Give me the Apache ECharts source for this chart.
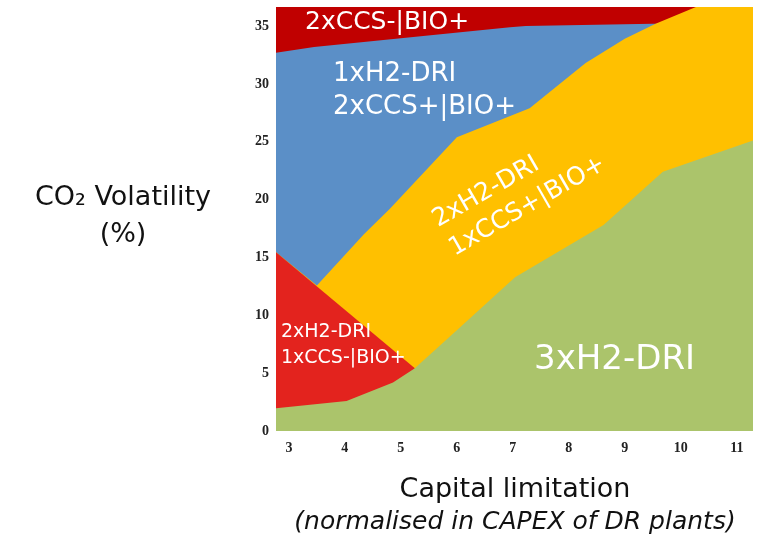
<!DOCTYPE html>
<html><head><meta charset="utf-8">
<script src="https://cdn.jsdelivr.net/npm/echarts@6/dist/echarts.min.js"></script>
<style>html,body{margin:0;padding:0;background:#fff}#c{width:762px;height:537px}</style>
</head><body><div id="c"></div>
<script>
// Boundary polylines [x, y]
const xTicks = [3, 4, 5, 6, 7, 8, 9, 10, 11];
const yTicks = [0, 5, 10, 15, 20, 25, 30, 35];
const topRegion = [[2.77, 36.65], [11.29, 36.65]];               // 2xCCS-|BIO+
const blueTop = [[2.77, 32.7], [3.45, 33.2], [6.95, 34.9], [7.23, 35.0], [9.5, 35.2], [11.29, 35.2]]; // 1xH2-DRI 2xCCS+|BIO+
const yellowTop = [[2.77, 15.45], [3.5, 12.57], [4.34, 17.0], [4.8, 19.2], [6.0, 25.4], [7.3, 27.9], [8.3, 31.8], [9.0, 33.9], [9.55, 35.2], [10.27, 36.65], [11.29, 36.65]]; // 2xH2-DRI 1xCCS+|BIO+
const redTop = [[2.77, 15.45], [5.25, 5.43]];                   // 2xH2-DRI 1xCCS-|BIO+
const greenTop = [[2.77, 1.97], [4.03, 2.6], [4.86, 4.19], [5.25, 5.43], [6.0, 8.7], [7.04, 13.3], [8.62, 17.8], [9.68, 22.4], [11.29, 25.1]]; // 3xH2-DRI

const chart = echarts.init(document.getElementById('c'));
const area = (name, data, color) => ({
  name, type: 'line', data, symbol: 'none', silent: true,
  lineStyle: {width: 0}, areaStyle: {color, opacity: 1, origin: 'start'}
});
const FONT = 'DejaVu Sans';
const white = {fill: '#fff', fontFamily: FONT, fontWeight: 400};
chart.setOption({
  animation: false,
  grid: {left: 276, right: 9, top: 7, bottom: 106},
  xAxis: {
    type: 'value', min: 2.77, max: 11.29,
    axisLine: {show: false}, axisTick: {show: false}, splitLine: {show: false},
    axisLabel: {customValues: xTicks, fontFamily: 'Liberation Serif', fontWeight: 'bold', fontSize: 14, color: '#222', margin: 10}
  },
  yAxis: {
    type: 'value', min: 0, max: 36.65,
    axisLine: {show: false}, axisTick: {show: false}, splitLine: {show: false},
    axisLabel: {customValues: yTicks, fontFamily: 'Liberation Serif', fontWeight: 'bold', fontSize: 14, color: '#222', margin: 7}
  },
  series: [
    area('2xCCS-|BIO+', topRegion, '#C00000'),
    area('1xH2-DRI 2xCCS+|BIO+', blueTop, '#5B8FC7'),
    area('2xH2-DRI 1xCCS+|BIO+', yellowTop, '#FFC000'),
    area('2xH2-DRI 1xCCS-|BIO+', redTop, '#E3231E'),
    area('3xH2-DRI', greenTop, '#ABC46B')
  ],
  graphic: {elements: [
    {type: 'text', z: 100, x: 305, y: 22, style: Object.assign({text: '2xCCS-|BIO+', fontSize: 25, verticalAlign: 'middle'}, white)},
    {type: 'text', z: 100, x: 333, y: 91, style: Object.assign({text: '1xH2-DRI\n2xCCS+|BIO+', fontSize: 26, lineHeight: 33, verticalAlign: 'middle'}, white)},
    {type: 'text', z: 100, x: 443, y: 236, rotation: 30 * Math.PI / 180,
      style: Object.assign({text: '2xH2-DRI\n1xCCS+|BIO+', fontSize: 25, lineHeight: 33, align: 'left', verticalAlign: 'middle'}, white)},
    {type: 'text', z: 100, x: 281, y: 345, style: Object.assign({text: '2xH2-DRI\n1xCCS-|BIO+', fontSize: 19, lineHeight: 26, verticalAlign: 'middle'}, white)},
    {type: 'text', z: 100, x: 534, y: 360, style: Object.assign({text: '3xH2-DRI', fontSize: 34, verticalAlign: 'middle'}, white)},
    {type: 'text', z: 100, x: 123, y: 216, style: {text: 'CO₂ Volatility\n(%)', fontFamily: FONT, fontSize: 27, lineHeight: 37, fill: '#111', align: 'center', verticalAlign: 'middle'}},
    {type: 'text', z: 100, x: 515, y: 490, style: {text: 'Capital limitation', fontFamily: FONT, fontSize: 27, fill: '#111', align: 'center', verticalAlign: 'middle'}},
    {type: 'text', z: 100, x: 515, y: 522, style: {text: '(normalised in CAPEX of DR plants)', fontFamily: FONT, fontStyle: 'italic', fontSize: 25, fill: '#111', align: 'center', verticalAlign: 'middle'}}
  ]}
});
</script></body></html>
